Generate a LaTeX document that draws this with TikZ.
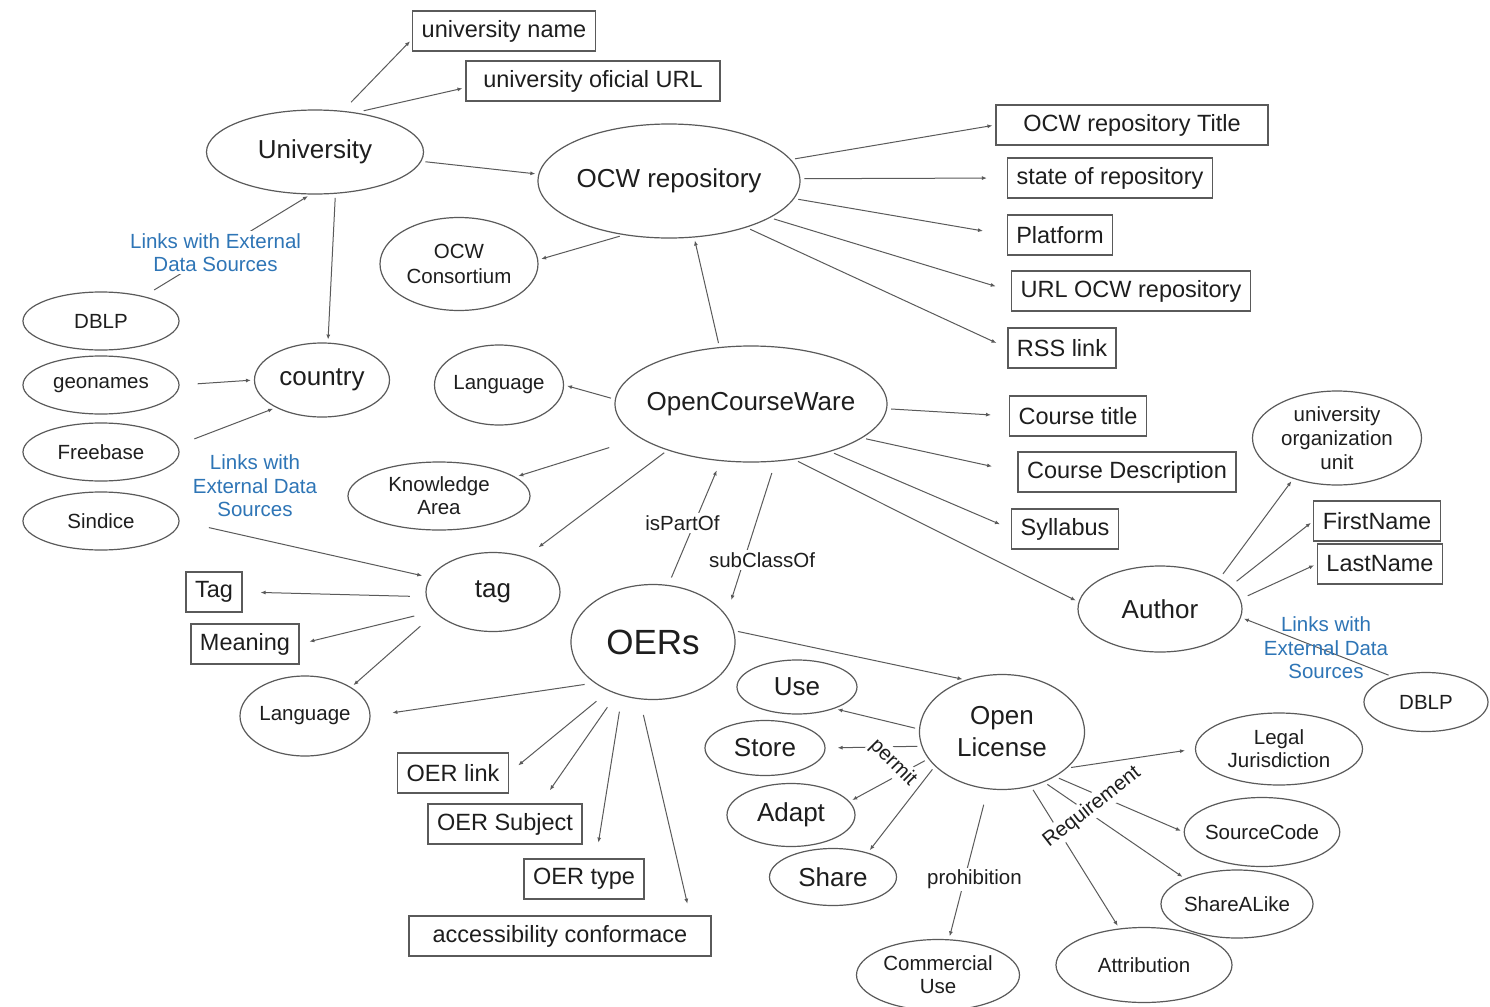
\documentclass[tikz,border=0pt]{standalone}
\usepackage{fontspec}
\setmainfont{Liberation Sans}
\usetikzlibrary{arrows.meta,shapes.geometric}
\definecolor{edgegray}{RGB}{90,90,90}
\definecolor{linkblue}{RGB}{46,117,182}
\definecolor{inkgray}{RGB}{30,30,30}

\begin{document}
\begin{tikzpicture}[
  x=0.5pt,y=-0.5pt,
  concept/.style={ellipse,draw=edgegray,line width=0.6pt,inner sep=0pt,align=center,text=inkgray,font=\fontsize{13}{16}\selectfont},
  minor/.style={concept,font=\fontsize{10.25}{11.75}\selectfont},
  prop/.style={draw=edgegray,line width=0.6pt,inner xsep=4.5pt,inner ysep=0pt,minimum height=20pt,text=inkgray,font=\fontsize{11.75}{14}\selectfont},
  rel/.style={-{Latex[length=2.5pt,width=2pt]},draw=edgegray,line width=0.5pt,shorten <=2pt,shorten >=1.5pt},
  extlink/.style={text=linkblue,align=center,inner sep=1pt,font=\fontsize{10.25}{11.75}\selectfont},
  edgelab/.style={text=inkgray,inner sep=1pt,font=\fontsize{10.25}{12}\selectfont}
]
\path[use as bounding box,fill=white] (0,0) rectangle (1490,1007);

% university and repository
\node[concept,minimum width=108.5pt,minimum height=42pt] (univ) at (315,152) {University};
\node[prop] (uname) at (504,31) {university name};
\node[prop,minimum width=127pt] (uurl) at (593,81) {university oficial URL};
\node[concept,minimum width=131pt,minimum height=57pt,inner xsep=-1.5pt] (ocwrep) at (669,181) {OCW repository};
\node[minor,minimum width=79pt,minimum height=46.5pt,font=\fontsize{10.25}{12.5}\selectfont] (cons) at (459,264) {OCW\\Consortium};
\node[prop,minimum width=136pt] (ocwtitle) at (1132,125) {OCW repository Title};
\node[prop,minimum width=102.5pt] (repstate) at (1110,178) {state of repository};
\node[prop] (platform) at (1060,235) {Platform};
\node[prop] (urlocw) at (1131,291) {URL OCW repository};
\node[prop] (rss) at (1062,348) {RSS link};

% external sources and country
\node[minor,minimum width=78pt,minimum height=29pt] (dblpL) at (101,321) {DBLP};
\node[minor,minimum width=78pt,minimum height=29pt] (geon) at (101,385) {geonames};
\node[minor,minimum width=78pt,minimum height=29pt] (freeb) at (101,452) {Freebase};
\node[minor,minimum width=78pt,minimum height=29pt] (sind) at (101,521) {Sindice};
\node[concept,minimum width=67.5pt,minimum height=37pt] (country) at (322,380) {country};

% OpenCourseWare
\node[concept,minimum width=136pt,minimum height=58pt,inner xsep=-5pt] (ocw) at (751,404) {OpenCourseWare};
\node[minor,minimum width=64.5pt,minimum height=40pt] (lang1) at (499,385) {Language};
\node[minor,minimum width=91pt,minimum height=34pt,font=\fontsize{10.25}{11.5}\selectfont] (karea) at (439,496) {Knowledge\\Area};
\node[prop] (ctitle) at (1078,416) {Course title};
\node[prop] (cdesc) at (1127,472) {Course Description};
\node[prop] (syll) at (1065,529) {Syllabus};

% tag
\node[concept,minimum width=67pt,minimum height=39.5pt] (tagn) at (493,592) {tag};
\node[prop] (tagbox) at (214,592) {Tag};
\node[prop] (meaning) at (245,644) {Meaning};
\node[minor,minimum width=65pt,minimum height=40pt] (lang2) at (305,716) {Language};

% OERs
\node[concept,minimum width=82pt,minimum height=57.5pt,font=\fontsize{17.5}{20}\selectfont] (oers) at (653,642) {OERs};
\node[prop] (oerlink) at (453,773) {OER link};
\node[prop] (oersubj) at (505,824) {OER Subject};
\node[prop] (oertype) at (584,879) {OER type};
\node[prop,minimum width=151pt] (access) at (560,936) {accessibility conformace};

% author
\node[concept,minimum width=82pt,minimum height=43pt] (author) at (1160,609) {Author};
\node[minor,minimum width=84.5pt,minimum height=47pt,inner ysep=-1pt,font=\fontsize{10.25}{12}\selectfont] (uou) at (1337,438) {university\\organization\\unit};
\node[prop] (fname) at (1377,521) {FirstName};
\node[prop] (lname) at (1380,564) {LastName};
\node[minor,minimum width=62pt,minimum height=29.5pt] (dblpR) at (1426,702) {DBLP};

% open license
\node[concept,minimum width=82.5pt,minimum height=57.5pt] (olic) at (1002,732) {Open\\License};
\node[concept,minimum width=60pt,minimum height=27pt] (use) at (797,687) {Use};
\node[concept,minimum width=60pt,minimum height=27.5pt] (store) at (765,748) {Store};
\node[concept,minimum width=64pt,minimum height=31.5pt] (adapt) at (791,815) {Adapt};
\node[concept,minimum width=63.5pt,minimum height=28.5pt] (share) at (833,877) {Share};
\node[minor,minimum width=81.5pt,minimum height=35.5pt,font=\fontsize{10.25}{11.5}\selectfont] (comm) at (938,975) {Commercial\\Use};
\node[minor,minimum width=83.5pt,minimum height=36pt,font=\fontsize{10.25}{11.5}\selectfont] (legal) at (1279,749) {Legal\\Jurisdiction};
\node[minor,minimum width=75.5pt,minimum height=34.5pt,inner xsep=-1pt] (scode) at (1262,832) {SourceCode};
\node[minor,minimum width=76pt,minimum height=34pt] (shalike) at (1237,904) {ShareALike};
\node[minor,minimum width=88pt,minimum height=37.5pt] (attrib) at (1144,965) {Attribution};

% university links
\draw[rel,shorten <=6pt] (univ.56) -- (uname.185);
\draw[rel,shorten <=4pt] (univ.44) -- (uurl.183);
\draw[rel] (univ.-5) -- (ocwrep.177);
\draw[rel] (univ.-64) -- (country.81);
\draw[rel,shorten <=6pt] (dblpL.30) -- node[extlink,pos=.43,fill=white] (extU) {Links with External\\Data Sources} (univ.-96);

% repository links
\draw[rel] (ocwrep.10) -- (ocwtitle.west);
\draw[rel,shorten >=10pt] (ocwrep.1) -- (repstate.west);
\draw[rel,shorten >=12pt] (ocwrep.-8) -- (platform.west);
\draw[rel,shorten >=8pt] (ocwrep.-20) -- (urlocw.west);
\draw[rel,shorten >=6pt] (ocwrep.-31) -- (rss.west);
\draw[rel] (ocwrep.-130) -- (cons.3);
\draw[rel] (ocw.119) -- (ocwrep.-66);

% country
\draw[rel,shorten <=9pt] (geon.east) -- (country.west);
\draw[rel,shorten <=9pt] (freeb.5) -- (country.-149);

% OpenCourseWare links
\draw[rel] (ocw.178) -- (lang1.east);
\draw[rel,shorten >=9pt] (ocw.-2) -- (ctitle.west);
\draw[rel,shorten >=13pt] (ocw.-17) -- (cdesc.west);
\draw[rel,shorten >=6pt] (ocw.-31) -- (syll.west);
\draw[rel] (ocw.-52) -- (author.175);
\draw[rel,shorten <=16pt] (ocw.197) -- (karea.14);
\draw[rel,shorten >=8pt] (ocw.209) -- (tagn.47);
\draw[rel,shorten <=4pt,shorten >=5pt] (oers.75) -- node[edgelab,fill=white,xshift=-6pt] (ispart) {isPartOf} (ocw.-118);
\draw[rel,shorten <=6pt,shorten >=8pt] (ocw.-67) -- node[edgelab,fill=white,pos=.64,xshift=9pt] (subcl) {subClassOf} (oers.20);

% tag links
\draw[rel,shorten <=15pt,shorten >=4pt] (sind.east) -- (tagn.167);
\node[extlink] (extS) at (255,486) {Links with\\External Data\\Sources};
\draw[rel,shorten <=8pt,shorten >=9pt] (tagn.184) -- (tagbox.east);
\draw[rel,shorten <=10pt,shorten >=5pt] (tagn.198) -- (meaning.east);
\draw[rel,shorten <=10pt] (tagn.200) -- (lang2.32);

% OERs links
\draw[rel,shorten <=5pt,shorten >=11pt] (oers.215) -- (lang2.east);
\draw[rel,shorten <=8pt,shorten >=6pt] (oers.228) -- (oerlink.east);
\draw[rel,shorten <=8pt,shorten >=8pt] (oers.235) -- (oersubj.30);
\draw[rel,shorten <=8pt,shorten >=8pt] (oers.240) -- (oertype.60);
\draw[rel,shorten <=8pt,shorten >=6pt] (oers.257) -- (access.9);
\draw[rel] (oers.8) -- (olic.125);

% author links
\draw[rel,shorten <=3pt] (author.27) -- (uou.223);
\draw[rel,shorten <=4pt] (author.18) -- (fname.west);
\draw[rel,shorten <=4pt] (author.7) -- (lname.west);
\draw[rel] (dblpR.143) -- (author.-6);
\node[extlink] (extA) at (1326,648) {Links with\\External Data\\Sources};

% license links
\draw[rel] (olic.178) -- (use.-30);
\draw[rel,shorten >=6pt] (olic.190) -- (store.east);
\draw[rel] (olic.200) -- (adapt.13);
\draw[rel] (olic.207) -- (share.35);
\node[edgelab,fill=white,rotate=-45] (permit) at (893,763) {permit};
\draw[rel,shorten <=8pt] (olic.256) -- node[edgelab,fill=white,pos=.6,xshift=5pt] (prohib) {prohibition} (comm.73);
\draw[rel,shorten >=5pt] (olic.-29) -- (legal.west);
\draw[rel] (olic.-40) -- (scode.west);
\draw[rel] (olic.-50) -- (shalike.154);
\draw[rel] (olic.-62) -- (attrib.124);
\node[edgelab,fill=white,rotate=38] (requir) at (1092,807) {Requirement};
\end{tikzpicture}
\end{document}
